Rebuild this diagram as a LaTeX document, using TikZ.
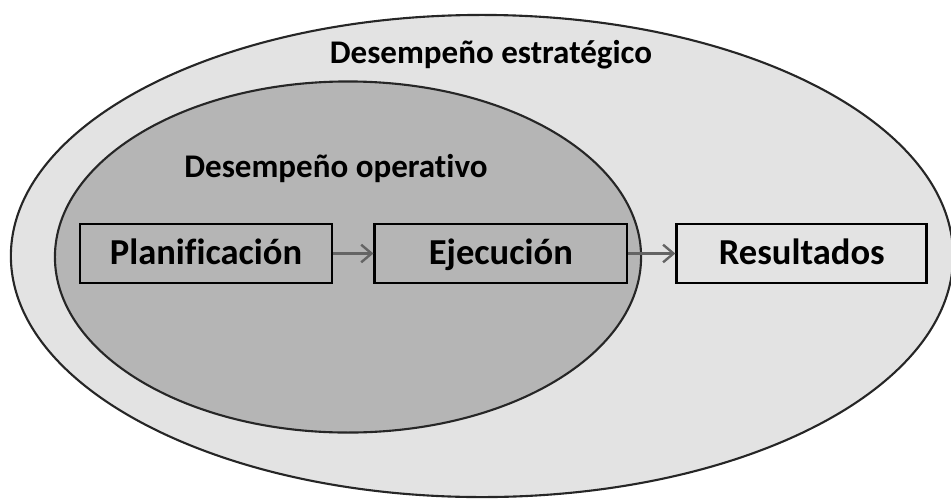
\documentclass[tikz,border=0pt]{standalone}
\usepackage{fontspec}
\setmainfont{Carlito}[Ligatures=NoCommon]
\usetikzlibrary{positioning,shapes.geometric,arrows.meta}
\definecolor{outergray}{HTML}{E3E3E3}
\definecolor{innergray}{HTML}{B5B5B5}
\definecolor{arrowgray}{HTML}{646464}
\tikzset{
  zone/.style={ellipse, draw=black!85, line width=1.5pt, inner sep=0pt},
  stage/.style={draw=black, line width=2pt, minimum width=6.3cm, minimum height=1.475cm,
    inner sep=0pt, text height=21pt, text depth=5pt, font=\fontsize{26}{30}\selectfont\bfseries},
  title/.style={anchor=base, font=\fontsize{23.5}{28}\selectfont\bfseries},
  flow/.style={draw=arrowgray, line width=1.7pt, -{Straight Barb[length=2.6mm,width=4.4mm,line width=1.7pt]}}
}
\begin{document}
\begin{tikzpicture}[x=0.025cm,y=-0.025cm]
    \useasboundingbox (0,0) rectangle (951,501);
    % outer and inner zones
    \node (estrategico) [zone, fill=outergray, minimum width=23.55cm, minimum height=12.05cm] at (482,256) {};
    \node (operativo) [zone, fill=innergray, minimum width=14.65cm, minimum height=8.775cm] at (348,257) {};
    \node (tituloest) [title] at (491,63) {Desempeño estratégico};
    \node (tituloop) [title] at (336,177) {Desempeño operativo};

    % stages
    \node (planif) [stage] at (206,253.5) {Planificación};
    \node (ejec) [stage, right=1cm of planif] {Ejecución};
    \node (result) [stage, fill=outergray, minimum width=6.25cm, right=1.175cm of ejec] {Resultados};

    \draw[flow] (planif) -- (ejec);
    \draw[flow] (ejec) -- (result);
\end{tikzpicture}
\end{document}
